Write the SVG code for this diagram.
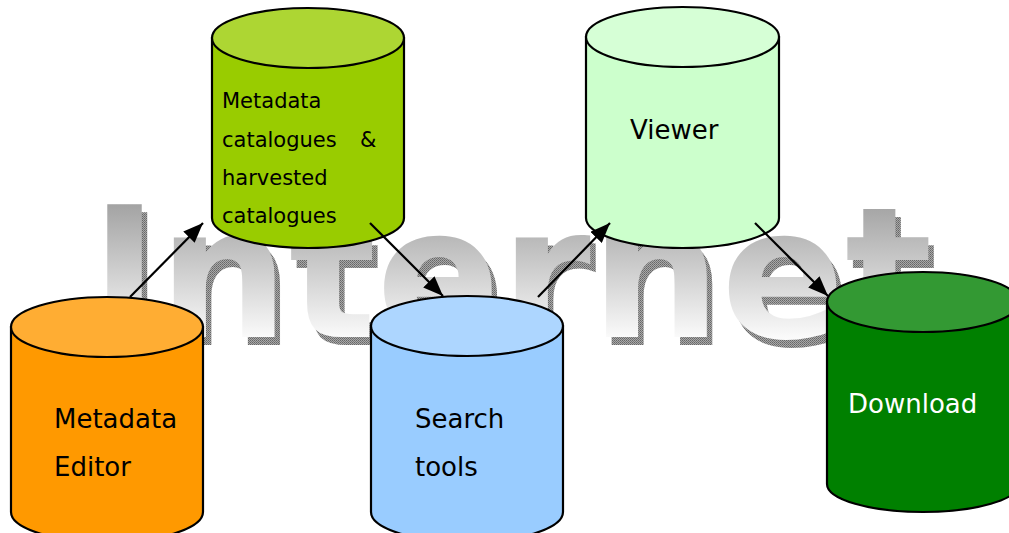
<svg xmlns="http://www.w3.org/2000/svg" width="1009" height="533" viewBox="0 0 1009 533">
  <defs>
    <!-- grey fade used on the big background word -->
    <linearGradient id="wordFill" gradientUnits="userSpaceOnUse" x1="0" y1="204" x2="0" y2="345">
      <stop offset="0" stop-color="#a3a3a3"/>
      <stop offset="1" stop-color="#ffffff"/>
    </linearGradient>
    <!-- stippled shadow behind the word -->
    <pattern id="stipple" patternUnits="userSpaceOnUse" width="2" height="2">
      <rect width="2" height="2" fill="#a8a8a8"/>
      <rect width="1" height="1" fill="#666666"/>
      <rect x="1" y="1" width="1" height="1" fill="#777777"/>
    </pattern>
    <marker id="head" markerUnits="userSpaceOnUse" markerWidth="21" markerHeight="16" refX="20" refY="8" orient="auto">
      <path d="M0,0 L20,8 L0,16 z" fill="#000"/>
    </marker>
  </defs>
  <style>
    .body { stroke: #000; stroke-width: 2.2; }
    .lbl { font-family: "DejaVu Sans", Verdana, sans-serif; font-size: 26px; fill: #000; }
    .small { font-size: 21px; }
    .word { font-family: "DejaVu Sans", Verdana, sans-serif; font-weight: bold; font-size: 182px; }
    .link { stroke: #000; stroke-width: 2.2; fill: none; marker-end: url(#head); }
  </style>

  <rect width="1009" height="533" fill="#ffffff"/>

  <!-- background word -->
  <g id="internet">
    <text class="word" x="96" y="345" fill="url(#stipple)" textLength="842" lengthAdjust="spacingAndGlyphs">Internet</text>
    <text class="word" x="90.5" y="337" fill="url(#wordFill)" textLength="842" lengthAdjust="spacingAndGlyphs">Internet</text>
  </g>

  <!-- Metadata Editor -->
  <g id="editor">
    <path class="body" fill="#ff9900" d="M11,327 L11,512 A96,30 0 0 0 203,512 L203,327 Z"/>
    <ellipse class="body" fill="#ffad33" cx="107" cy="327" rx="96" ry="30"/>
    <text class="lbl" x="54" y="428">Metadata</text>
    <text class="lbl" x="54" y="476">Editor</text>
  </g>

  <!-- Metadata catalogues & harvested catalogues -->
  <g id="catalogues">
    <path class="body" fill="#99cc00" d="M212,38 L212,218 A96,30 0 0 0 404,218 L404,38 Z"/>
    <ellipse class="body" fill="#add633" cx="308" cy="38" rx="96" ry="30"/>
    <text class="lbl small" x="222" y="108">Metadata</text>
    <text class="lbl small" x="222" y="147">catalogues</text>
    <text class="lbl small" x="360" y="147">&amp;</text>
    <text class="lbl small" x="222" y="185">harvested</text>
    <text class="lbl small" x="222" y="223">catalogues</text>
  </g>

  <!-- Search tools -->
  <g id="search">
    <path class="body" fill="#99ccff" d="M371,326 L371,512 A96,30 0 0 0 563,512 L563,326 Z"/>
    <ellipse class="body" fill="#add6ff" cx="467" cy="326" rx="96" ry="30"/>
    <text class="lbl" x="415" y="428">Search</text>
    <text class="lbl" x="415" y="476">tools</text>
  </g>

  <!-- Viewer -->
  <g id="viewer">
    <path class="body" fill="#ccffcc" d="M586,37 L586,218 A96.5,30 0 0 0 779,218 L779,37 Z"/>
    <ellipse class="body" fill="#d6ffd6" cx="682.5" cy="37" rx="96.5" ry="30"/>
    <text class="lbl" x="630" y="139">Viewer</text>
  </g>

  <!-- Download -->
  <g id="download">
    <path class="body" fill="#008000" d="M827,302 L827,484 A96,28 0 0 0 1019,484 L1019,302 Z"/>
    <ellipse class="body" fill="#339933" cx="923" cy="302" rx="96" ry="30"/>
    <text class="lbl" x="848" y="413" style="fill:#ffffff">Download</text>
  </g>

  <!-- connectors -->
  <g id="connectors">
    <line class="link" x1="130" y1="297" x2="203" y2="223"/>
    <line class="link" x1="370" y1="223" x2="443" y2="296"/>
    <line class="link" x1="538" y1="297" x2="610" y2="223"/>
    <line class="link" x1="755" y1="223" x2="828" y2="296"/>
  </g>
</svg>
